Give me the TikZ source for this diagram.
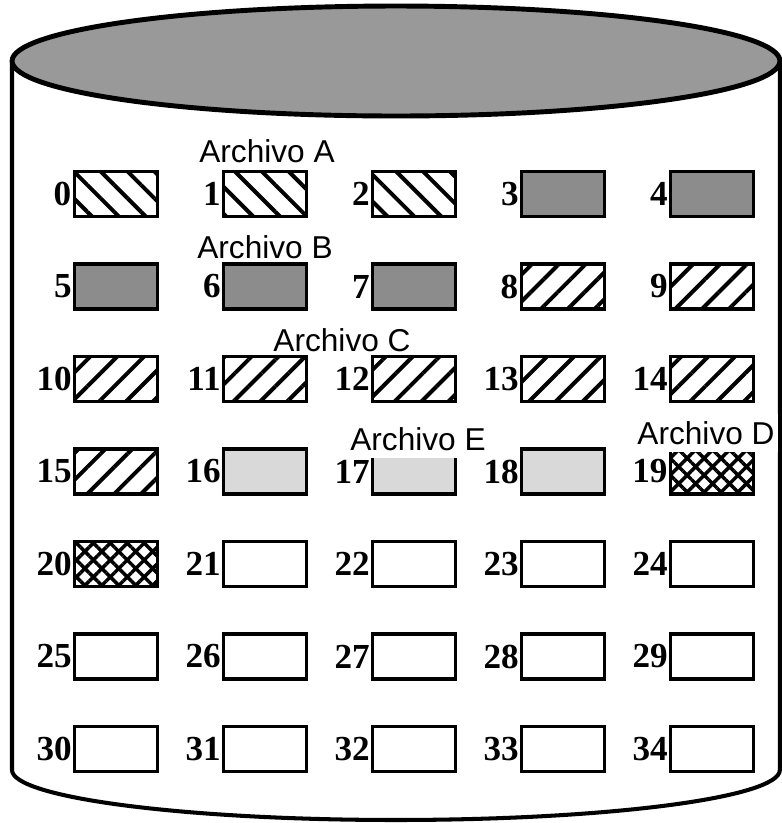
\documentclass[tikz,border=0pt]{standalone}
\usepackage{fontspec}
\setmainfont{Liberation Serif}
\newfontfamily\labelfont{Liberation Sans}
\usetikzlibrary{patterns.meta,positioning}
\definecolor{diskgrey}{HTML}{999999}
\definecolor{fileBgrey}{HTML}{8C8C8C}
\definecolor{fileEgrey}{HTML}{D9D9D9}

\tikzset{
  block/.style={draw=black, line width=1.8pt, minimum width=1.66cm,
    minimum height=0.9cm, inner sep=0pt},
  blkA/.style={pattern={Lines[angle=-45,distance=0.38cm,line width=0.08cm]}},
  blkB/.style={fill=fileBgrey},
  blkC/.style={pattern={Lines[angle=45,distance=0.38cm,line width=0.08cm]}},
  blkD/.style={pattern={Hatch[angle=45,distance=0.24cm,line width=0.07cm]}},
  blkE/.style={fill=fileEgrey},
  blkfree/.style={fill=white},
  blocknum/.style={font=\fontsize{20}{20}\selectfont\bfseries,
    inner sep=0.5pt, anchor=east},
  filename/.style={font=\labelfont\fontsize{18}{18}\selectfont,
    fill=white, inner sep=2pt}
}

\begin{document}
\begin{tikzpicture}[x=0.02cm, y=-0.02cm]
    \useasboundingbox (0,0) rectangle (782,823);

    % Disk body
    \draw[line width=2.3pt]
      (12,62) -- (12,770) arc[start angle=180, end angle=360,
        x radius=7.68cm, y radius=1cm] -- (780,62);
    \filldraw[fill=diskgrey, draw=black, line width=2.8pt]
      (396,61) ellipse [x radius=7.68cm, y radius=1.1cm];

    % Blocks of each file
    \foreach \kind/\list in {blkA/{0,1,2}, blkB/{3,4,5,6,7},
        blkC/{8,9,10,11,12,13,14,15}, blkE/{16,17,18}, blkD/{19,20},
        blkfree/{21,22,23,24,25,26,27,28,29,30,31,32,33,34}}{
      \foreach \n in \list {
        \pgfmathtruncatemacro{\row}{div(\n,5)}
        \pgfmathtruncatemacro{\col}{mod(\n,5)}
        \node[block, \kind] (b\n) at ({116+149*\col},{194+92.5*\row}) {};
        \node[blocknum] (n\n) at (b\n.west) {\n};
      }
    }

    % File names
    \node[filename] (lblA) at (267,151) {Archivo A};
    \node[filename] (lblB) at (265,247) {Archivo B};
    \node[filename, inner xsep=12pt] (lblC) at (342,340) {Archivo C};
    \node[filename, inner ysep=4pt] (lblE) at (418,439) {Archivo E};
    \node[filename, inner ysep=4pt] (lblD) at (706,433) {Archivo D};
  \end{tikzpicture}
\end{document}
